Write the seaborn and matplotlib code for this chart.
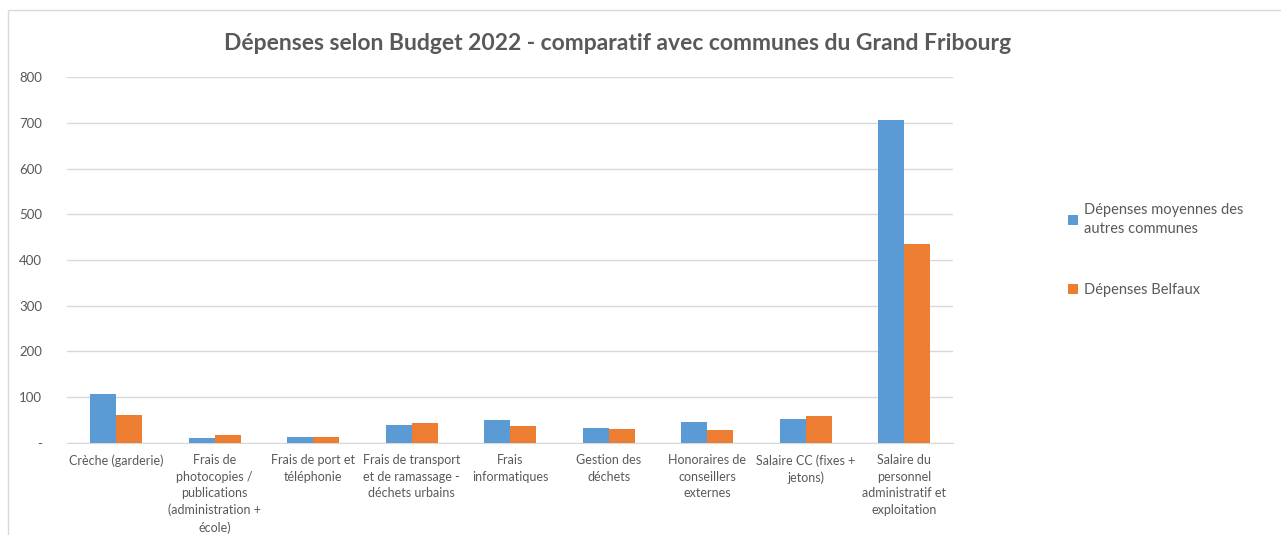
import matplotlib
matplotlib.use("Agg")
import matplotlib.pyplot as plt
from matplotlib.patches import Rectangle
import seaborn as sns
import pandas as pd

categories = [
    "Crèche (garderie)",
    "Frais de\nphotocopies /\npublications\n(administration +\nécole)",
    "Frais de port et\ntéléphonie",
    "Frais de transport\net de ramassage -\ndéchets urbains",
    "Frais\ninformatiques",
    "Gestion des\ndéchets",
    "Honoraires de\nconseillers\nexternes",
    "Salaire CC (fixes +\njetons)",
    "Salaire du\npersonnel\nadministratif et\nexploitation",
]
autres = [107, 11, 13, 39, 50, 33, 45, 52, 706]
belfaux = [61, 17, 13, 44, 37, 31, 28, 58, 435]
series = ["Dépenses moyennes des\nautres communes", "Dépenses Belfaux"]
colors = ["#5B9BD5", "#ED7D31"]
yticks = [0, 100, 200, 300, 400, 500, 600, 700, 800]
ylabels = ["-", "100", "200", "300", "400", "500", "600", "700", "800"]

df = pd.DataFrame({
    "cat": categories * 2,
    "val": autres + belfaux,
    "serie": [series[0]] * len(categories) + [series[1]] * len(categories),
})

sns.set_style("white")
plt.rcParams["font.family"] = ["Lato", "DejaVu Sans"]
txt = "#595959"

fig = plt.figure(figsize=(12.81, 5.35), dpi=100)
ax = fig.add_axes([0.0523, 0.172, 0.692, 0.684])

sns.barplot(data=df, x="cat", y="val", hue="serie", palette=colors,
            width=0.53, saturation=1, linewidth=0, ax=ax, zorder=3)

ax.set_ylim(0, 800)
ax.set_xlim(-0.5, len(categories) - 0.5)
ax.set_yticks(yticks)
ax.set_yticklabels(ylabels, color=txt, fontsize=9.5)
ax.tick_params(axis="x", colors=txt, labelsize=9, length=0, pad=8)
ax.tick_params(axis="y", length=0, pad=18)
for lbl in ax.get_xticklabels():
    lbl.set_color(txt)
    lbl.set_linespacing(1.45)
ax.yaxis.grid(True, color="#D9D9D9", linewidth=1, zorder=0)
ax.set_axisbelow(True)
for s in ["top", "right", "left"]:
    ax.spines[s].set_visible(False)
ax.spines["bottom"].set_color("#D9D9D9")
ax.set_xlabel("")
ax.set_ylabel("")

leg = ax.legend(loc="center left", bbox_to_anchor=(1.114, 0.527), frameon=False,
                fontsize=10.5, labelcolor=txt, handlelength=0.7, handleheight=0.7,
                handletextpad=0.4, labelspacing=3.2)
for t in leg.get_texts():
    t.set_linespacing(1.45)

fig.text(0.482, 0.918, "Dépenses selon Budget 2022 - comparatif avec communes du Grand Fribourg",
         ha="center", va="center", fontsize=16.5, fontweight="bold", color=txt)

fig.patches.append(Rectangle((8 / 1281, -0.05), 1.1, 1.05 - 10 / 535, transform=fig.transFigure,
                             fill=False, edgecolor="#D9D9D9", linewidth=1))

fig.savefig("out.png", dpi=100, facecolor="white")
